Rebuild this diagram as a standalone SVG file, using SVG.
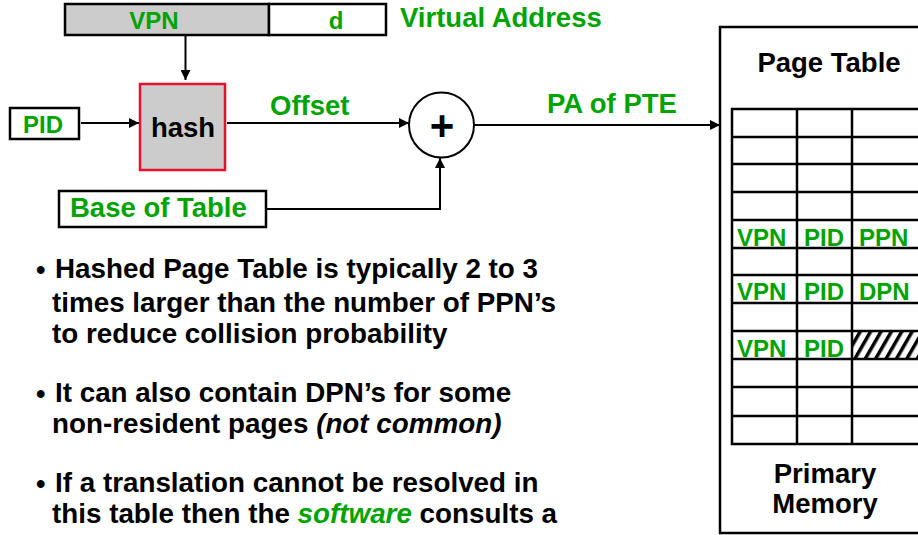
<svg xmlns="http://www.w3.org/2000/svg" width="918" height="535" viewBox="0 0 918 535">
  <style>
    text { font-family: "Liberation Sans", Arial, sans-serif; font-weight: bold; }
    .g { fill: #00a300; }
    .k { fill: #000; }
    .lbl { font-size: 27.5px; }
    .sm { font-size: 24px; }
    .box { fill: #fff; stroke: #000; stroke-width: 2.5; }
    .gray { fill: #cccccc; stroke: #000; stroke-width: 2.5; }
    .conn { fill: none; stroke: #000; stroke-width: 2; }
    .grid { fill: none; stroke: #000; stroke-width: 2.5; }
    .body { font-size: 27.8px; fill: #000; }
    .dot { font-size: 27px; }
    .it { font-style: italic; }
  </style>
  <defs>
    <marker id="arrow" viewBox="0 0 10 10" refX="10" refY="5" markerWidth="5" markerHeight="5" orient="auto" markerUnits="strokeWidth">
      <path d="M0,0 L10,5 L0,10 z" fill="#000"/>
    </marker>
    <pattern id="hatch" patternUnits="userSpaceOnUse" width="9" height="9" patternTransform="rotate(30)">
      <rect width="9" height="9" fill="#fff"/>
      <rect x="0" y="0" width="3.5" height="9" fill="#000"/>
    </pattern>
  </defs>

  <!-- virtual address: VPN | d -->
  <g id="virtual-address">
    <rect class="gray" x="65" y="4" width="204" height="31"/>
    <rect class="box" x="269" y="4" width="117" height="31"/>
    <text class="g sm" x="154" y="29" text-anchor="middle">VPN</text>
    <text class="g sm" x="336" y="29" text-anchor="middle">d</text>
    <text class="g lbl" x="400" y="27">Virtual Address</text>
  </g>

  <g id="pid">
    <rect class="box" x="10" y="108" width="69" height="31"/>
    <text class="g sm" x="23" y="133">PID</text>
  </g>

  <g id="hash">
    <rect x="140" y="84" width="85" height="86" fill="#cccccc" stroke="#e8102d" stroke-width="2.5"/>
    <text class="k lbl" x="183" y="137" text-anchor="middle">hash</text>
  </g>

  <g id="adder">
    <circle cx="441.5" cy="125" r="32.5" fill="#fff" stroke="#000" stroke-width="2"/>
    <text class="k" x="442" y="140" font-size="42" text-anchor="middle">+</text>
  </g>

  <g id="base-of-table">
    <rect class="box" x="59" y="191" width="207" height="36"/>
    <text class="g lbl" x="70" y="217">Base of Table</text>
  </g>

  <!-- connectors -->
  <g id="connectors">
    <line class="conn" x1="185.5" y1="35" x2="185.5" y2="80" marker-end="url(#arrow)"/>
    <line class="conn" x1="81" y1="123" x2="139" y2="123" marker-end="url(#arrow)"/>
    <line class="conn" x1="227" y1="123" x2="409" y2="123" marker-end="url(#arrow)"/>
    <polyline class="conn" points="266,209 440,209 440,158" marker-end="url(#arrow)"/>
    <line class="conn" x1="474" y1="125" x2="720" y2="125" marker-end="url(#arrow)"/>
    <text class="g lbl" x="270" y="115">Offset</text>
    <text class="g lbl" x="547" y="113">PA of PTE</text>
  </g>

  <!-- primary memory holding the hashed page table -->
  <g id="primary-memory">
    <rect class="grid" x="720" y="27" width="220" height="506" fill="#fff"/>
    <text class="k lbl" x="829" y="72" text-anchor="middle">Page Table</text>
    <rect x="852" y="331" width="80" height="28" fill="url(#hatch)"/>
    <g class="grid">
      <rect x="732" y="109" width="210" height="335"/>
      <line x1="797" y1="109" x2="797" y2="444"/>
      <line x1="852" y1="109" x2="852" y2="444"/>
      <line x1="732" y1="137" x2="942" y2="137"/>
      <line x1="732" y1="164" x2="942" y2="164"/>
      <line x1="732" y1="192" x2="942" y2="192"/>
      <line x1="732" y1="220" x2="942" y2="220"/>
      <line x1="732" y1="248" x2="942" y2="248"/>
      <line x1="732" y1="275" x2="942" y2="275"/>
      <line x1="732" y1="303" x2="942" y2="303"/>
      <line x1="732" y1="331" x2="942" y2="331"/>
      <line x1="732" y1="359" x2="942" y2="359"/>
      <line x1="732" y1="387" x2="942" y2="387"/>
      <line x1="732" y1="416" x2="942" y2="416"/>
    </g>
    <g class="g sm">
      <text x="737" y="246">VPN</text>
      <text x="804" y="246">PID</text>
      <text x="859" y="246">PPN</text>
      <text x="737" y="300">VPN</text>
      <text x="804" y="300">PID</text>
      <text x="859" y="300">DPN</text>
      <text x="737" y="357">VPN</text>
      <text x="804" y="357">PID</text>
    </g>
    <text class="k lbl" x="825" y="483" text-anchor="middle">Primary</text>
    <text class="k lbl" x="825" y="513" text-anchor="middle">Memory</text>
  </g>

  <!-- explanatory bullets -->
  <g id="notes" class="body">
    <text class="dot" x="36" y="279">•</text>
    <text x="55" y="278">Hashed Page Table is typically 2 to 3</text>
    <text x="52" y="312">times larger than the number of PPN’s</text>
    <text x="52" y="343">to reduce collision probability</text>
    <text class="dot" x="36" y="403">•</text>
    <text x="55" y="402">It can also contain DPN’s for some</text>
    <text x="52" y="433">non-resident pages <tspan class="it">(not common)</tspan></text>
    <text class="dot" x="36" y="493">•</text>
    <text x="55" y="492">If a translation cannot be resolved in</text>
    <text x="52" y="523">this table then the <tspan class="it g">software</tspan> consults a</text>
  </g>
</svg>
